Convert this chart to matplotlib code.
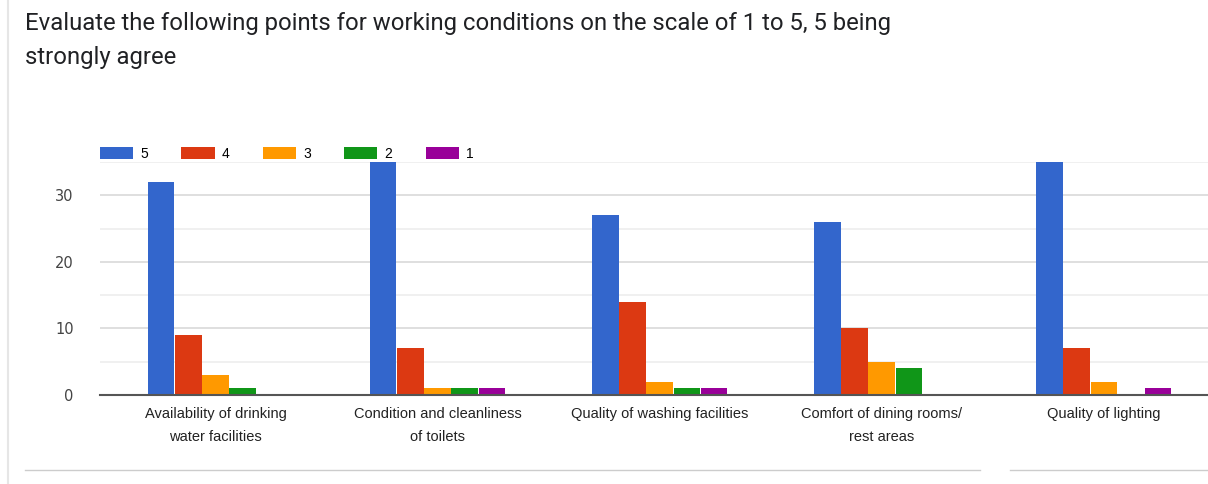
import numpy as np
import matplotlib.pyplot as plt
from matplotlib.lines import Line2D

# Data
categories = ['Availability of drinking\nwater facilities',
              'Condition and cleanliness\nof toilets',
              'Quality of washing facilities',
              'Comfort of dining rooms/\nrest areas',
              'Quality of lighting']
ratings = ['5', '4', '3', '2', '1']
score_5 = [32, 35, 27, 26, 35]
score_4 = [9, 7, 14, 10, 7]
score_3 = [3, 1, 2, 5, 2]
score_2 = [1, 1, 1, 4, 0]
score_1 = [0, 1, 1, 0, 1]
series = [score_5, score_4, score_3, score_2, score_1]
colors = ['#3366CC', '#DC3912', '#FF9900', '#109618', '#990099']

fig = plt.figure(figsize=(12.08, 4.84), dpi=100)
ax = fig.add_axes([0.0828, 0.184, 0.9172, 0.481])

x = np.arange(len(categories))
width = 0.122
for i, (vals, c) in enumerate(zip(series, colors)):
    ax.bar(x + (i - 2) * width, vals, width * 0.97, color=c, label=ratings[i], zorder=3)

ax.set_xlim(-0.52, 4.47)
ax.set_ylim(0, 35)
ax.set_yticks([0, 10, 20, 30])
ax.set_yticks([5, 15, 25, 35], minor=True)
ax.grid(axis='y', which='major', color='#d9d9d9', linewidth=1.2, zorder=0)
ax.grid(axis='y', which='minor', color='#eeeeee', linewidth=1.2, zorder=0)
ax.tick_params(axis='y', which='both', length=0, labelsize=10.5, labelcolor='#444444', pad=19)
ax.set_xticks(x)
ax.set_xticklabels(categories, fontsize=10.5, color='#222222', linespacing=1.75,
                   family='Liberation Sans', va='top')
ax.tick_params(axis='x', length=0, pad=9)
for s in ['top', 'right', 'left']:
    ax.spines[s].set_visible(False)
ax.spines['bottom'].set_color('#555555')
ax.spines['bottom'].set_linewidth(1.5)
ax.spines['bottom'].set_zorder(4)

ax.legend(loc='lower left', bbox_to_anchor=(0.0, 1.005), ncol=5, frameon=False,
          handlelength=2.4, handleheight=0.9, columnspacing=2.4, handletextpad=0.5,
          borderaxespad=0, borderpad=0,
          prop={'family': 'Liberation Sans', 'size': 10})

fig.text(0.021, 0.951, 'Evaluate the following points for working conditions on the scale of 1 to 5, 5 being',
         fontsize=17.2, color='#202124', family='Roboto', va='center')
fig.text(0.021, 0.882, 'strongly agree', fontsize=17.2, color='#202124', family='Roboto', va='center')

# card borders
fig.add_artist(Line2D([0.0066, 0.0066], [0.0, 1.0], color='#e6e6e6', linewidth=1.5))
fig.add_artist(Line2D([0.021, 0.811], [0.029, 0.029], color='#cccccc', linewidth=1))
fig.add_artist(Line2D([0.836, 1.0], [0.029, 0.029], color='#cccccc', linewidth=1))

fig.savefig('out.png', dpi=100)
